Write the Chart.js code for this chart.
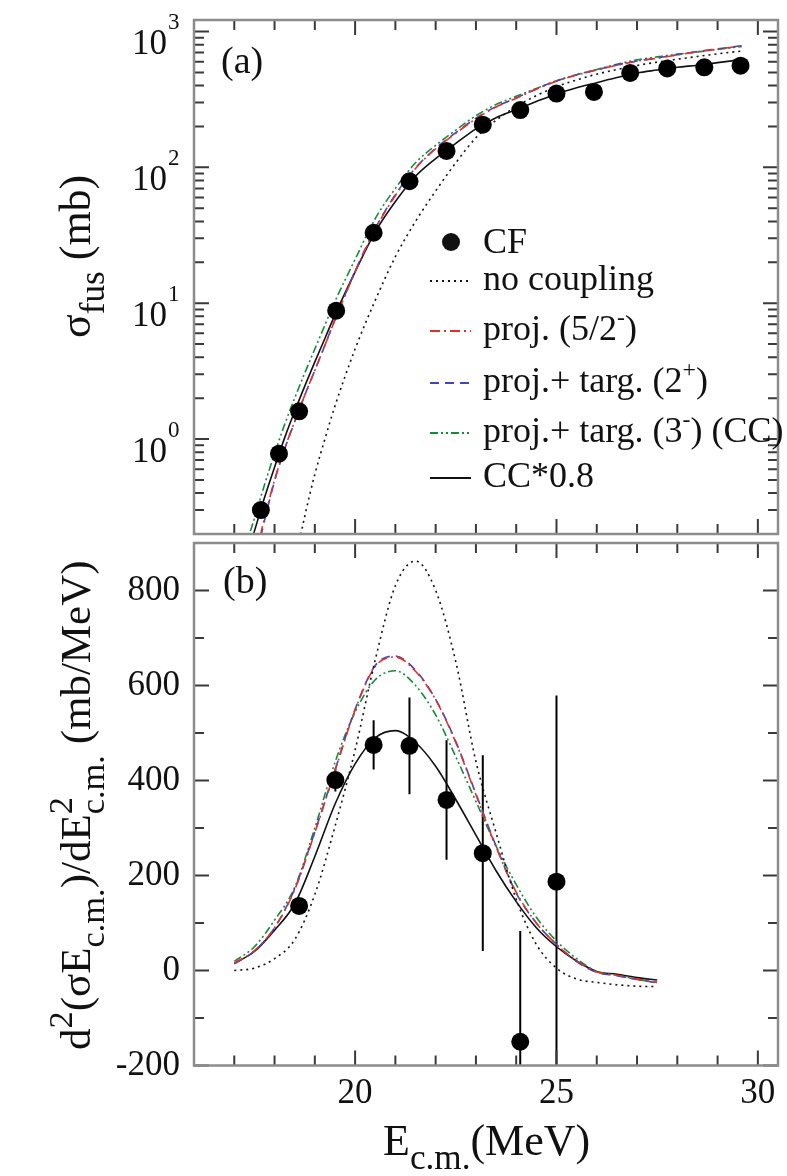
<!DOCTYPE html>
<html>
<head>
<meta charset="utf-8">
<script src="https://cdn.jsdelivr.net/npm/chart.js@4.4.0/dist/chart.umd.min.js"></script>
<style>
    body { margin: 0; background: #fff; }
    #wrap { position: relative; width: 787px; height: 1176px; }
    #topChart { position: absolute; left: 0; top: 0; }
    #botChart { position: absolute; left: 0; top: 440px; }
</style>
</head>
<body>
<div id="wrap">
    <canvas id="topChart" width="787" height="543"></canvas>
    <canvas id="botChart" width="787" height="736"></canvas>
</div>
<script>
// ---- panel (a): fusion cross section (mb) ----
const eCF = [17.66, 18.11, 18.61, 19.53, 20.46, 21.35, 22.27, 23.17, 24.10, 25.00, 25.93, 26.83, 27.75, 28.67, 29.57];
const sigCF = [0.30, 0.78, 1.6, 8.8, 33, 79, 132, 206, 264, 349, 359, 495, 535, 545, 560];

const eCalcA = [17.4, 17.5, 17.75, 18.0, 18.25, 18.5, 18.75, 19.0, 19.25, 19.5, 20.0, 20.5, 21.0, 21.5, 22.0,
    22.5, 23.0, 23.5, 24.0, 24.5, 25.0, 25.5, 26.0, 26.5, 27.0, 27.5, 28.0, 28.5, 29.0, 29.6];
const sigNoCoup = [null, null, null, null, null, 0.12, 0.27, 0.55, 1.0, 1.75, 4.6, 10.5, 22, 40, 67,
    108, 165, 222, 280, 337, 392, 440, 485, 525, 562, 595, 625, 655, 685, 718];
const sigProj = [0.10, 0.13, 0.26, 0.50, 0.85, 1.35, 2.1, 3.2, 4.9, 7.5, 17, 35, 62, 98, 137,
    178, 228, 278, 322, 376, 430, 478, 520, 565, 605, 635, 672, 710, 742, 782];
const sigTarg2 = [0.09, 0.12, 0.25, 0.49, 0.84, 1.34, 2.1, 3.2, 4.9, 7.6, 17.2, 35.5, 63, 99, 138,
    180, 230, 280, 324, 378, 432, 480, 522, 567, 607, 638, 675, 712, 745, 785];
const sigCC = [0.21, 0.26, 0.46, 0.78, 1.28, 2.0, 3.06, 4.6, 6.9, 10.3, 21, 42, 70, 108, 145,
    188, 240, 290, 333, 381, 434, 481, 525, 573, 619, 650, 681, 706, 738, 775];
const sigCC08 = [0.17, 0.21, 0.37, 0.62, 1.02, 1.6, 2.45, 3.7, 5.5, 8.2, 17, 33.5, 56, 86, 116,
    150, 192, 232, 266, 305, 347, 385, 420, 458, 495, 520, 545, 565, 590, 620];

// ---- panel (b): barrier distribution (mb/MeV) ----
const eCFb = [18.61, 19.51, 20.46, 21.35, 22.27, 23.17, 24.10, 25.00];
const dCF = [136, 401, 475, 473, 359, 247, -150, 187];
const dErr = [0, 24, 52, 102, 126, 206, 233, 392];

const eCalcB = [17.0, 17.5, 18.0, 18.5, 19.0, 19.5, 20.0, 20.5, 21.0, 21.5, 22.0,
    22.5, 23.0, 23.5, 24.0, 24.5, 25.0, 25.5, 26.0, 26.5, 27.0, 27.5];
const dNoCoup = [0, 5, 25, 65, 160, 303, 464, 654, 810, 862, 800, 650, 440, 290, 150, 55, 5, -18, -25, -30, -33, -34];
const dProj = [15, 42, 90, 170, 290, 420, 548, 640, 660, 630, 570, 480, 370, 260, 165, 100, 55, 20, -3, -10, -18, -25];
const dTarg2 = [14, 41, 90, 172, 292, 422, 550, 642, 662, 632, 571, 482, 372, 262, 163, 100, 55, 19, -4, -11, -19, -26];
const dCC = [19, 50, 106, 175, 300, 438, 544, 612, 631, 600, 538, 450, 356, 262, 181, 112, 62, 25, -2, -10, -19, -25];
const dCC08 = [15, 40, 85, 140, 240, 350, 435, 490, 505, 480, 430, 360, 285, 210, 145, 90, 50, 20, -2, -8, -15, -20];

// ---- axes ----
const xTicksMinor = [16, 17, 18, 19, 20, 21, 22, 23, 24, 25, 26, 27, 28, 29, 30];
const xTicksMajor = [20, 25, 30];
const yDecadesA = [1, 10, 100, 1000];
const yExpA = ['0', '1', '2', '3'];
const yTicksMajorB = [-200, 0, 200, 400, 600, 800];
const yTicksMinorB = [-100, 100, 300, 500, 700];

const SERIF = '"Liberation Serif", "Times New Roman", serif';
const RED = '#e0302c', BLUE = '#3a46c4', GREEN = '#188a3c', INK = '#111';

Chart.defaults.font.family = SERIF;
Chart.defaults.color = INK;

// log minor ticks: 2..9 of each decade inside the range
const yMinorA = [];
[0.1, 1, 10, 100].forEach(d => { for (let k = 2; k <= 9; k++) yMinorA.push(d * k); });

// draws text parts with sub/superscripts, returns width
function rich(ctx, parts, x, y, size, subScale) {
    const small = size * (subScale || 0.66);
    let cx = x;
    ctx.textAlign = 'left';
    ctx.textBaseline = 'alphabetic';
    for (const p of parts) {
        const t = p[0], mode = p[1] || '';
        if (mode === 'supsub') {
            ctx.font = small + 'px ' + SERIF;
            ctx.fillText(t[0], cx, y - size * 0.42);
            ctx.fillText(t[1], cx, y + size * 0.32);
            cx += Math.max(ctx.measureText(t[0]).width, ctx.measureText(t[1]).width);
            continue;
        }
        ctx.font = (mode ? small : size) + 'px ' + SERIF;
        const dy = mode === 'sup' ? -size * 0.42 : mode === 'sub' ? size * 0.32 : 0;
        ctx.fillText(t, cx, y + dy);
        cx += ctx.measureText(t).width;
    }
    return cx - x;
}

// frame plus inward tick marks on all four sides
function frameTicks(yMajor, yMinor) {
    return {
        id: 'frameTicks',
        afterDraw(chart) {
            const ctx = chart.ctx, a = chart.chartArea;
            const sx = chart.scales.x, sy = chart.scales.y;
            ctx.save();
            ctx.strokeStyle = '#3a3a3a';
            ctx.lineWidth = 2;
            ctx.beginPath();
            xTicksMinor.forEach(v => {
                const px = sx.getPixelForValue(v);
                const len = xTicksMajor.includes(v) ? 15 : 10;
                ctx.moveTo(px, a.bottom); ctx.lineTo(px, a.bottom - len);
                ctx.moveTo(px, a.top); ctx.lineTo(px, a.top + len);
            });
            yMajor.concat(yMinor).forEach(v => {
                const py = sy.getPixelForValue(v);
                if (py < a.top || py > a.bottom) return;
                const len = yMajor.includes(v) ? 15 : 10;
                ctx.moveTo(a.left, py); ctx.lineTo(a.left + len, py);
                ctx.moveTo(a.right, py); ctx.lineTo(a.right - len, py);
            });
            ctx.stroke();
            ctx.strokeStyle = '#8c8c8c';
            ctx.lineWidth = 2.5;
            ctx.strokeRect(a.left, a.top, a.right - a.left, a.bottom - a.top);
            ctx.restore();
        }
    };
}

function pts(xs, ys) {
    return xs.map((x, i) => ({ x: x, y: ys[i] }));
}

function curve(label, xs, ys, color, dash) {
    return {
        label: label,
        data: pts(xs, ys),
        borderColor: color,
        borderWidth: 1.6,
        borderDash: dash,
        pointRadius: 0,
        fill: false,
        cubicInterpolationMode: 'monotone'
    };
}

function dots(label, xs, ys) {
    return {
        label: label,
        data: pts(xs, ys),
        showLine: false,
        pointRadius: 9,
        pointBackgroundColor: '#000',
        pointBorderColor: '#000',
        pointBorderWidth: 0
    };
}

// legend rows for panel (a)
const legendRows = [
    { kind: 'dot', y: 253, parts: [['CF']] },
    { kind: 'line', color: INK, dash: [2, 4], y: 290, parts: [['no coupling']] },
    { kind: 'line', color: RED, dash: [10, 4, 2, 4], y: 340, parts: [['proj. (5/2'], ['-', 'sup'], [')']] },
    { kind: 'line', color: BLUE, dash: [9, 6], y: 392, parts: [['proj.+ targ. (2'], ['+', 'sup'], [')']] },
    { kind: 'line', color: GREEN, dash: [8, 3, 2, 3, 2, 3], y: 442, parts: [['proj.+ targ. (3'], ['-', 'sup'], [') (CC)']] },
    { kind: 'line', color: INK, dash: [], y: 487, parts: [['CC*0.8']] }
];

const topDecor = {
    id: 'topDecor',
    afterDraw(chart) {
        const ctx = chart.ctx, sy = chart.scales.y;
        ctx.save();
        ctx.fillStyle = INK;
        // decade labels 10^n
        yDecadesA.forEach((v, i) => {
            const py = sy.getPixelForValue(v);
            ctx.font = '35px ' + SERIF;
            ctx.textAlign = 'right';
            ctx.textBaseline = 'alphabetic';
            ctx.fillText('10', 167, py + 23);
            ctx.font = '23px ' + SERIF;
            ctx.textAlign = 'left';
            ctx.fillText(yExpA[i], 168, py - 2);
        });
        // y title
        ctx.save();
        ctx.translate(90, 338);
        ctx.rotate(-Math.PI / 2);
        rich(ctx, [['σ'], ['fus', 'sub'], [' (mb)']], 0, 0, 44, 0.8);
        ctx.restore();
        // panel label
        rich(ctx, [['(a)']], 221, 73, 38);
        // legend
        legendRows.forEach(r => {
            if (r.kind === 'dot') {
                ctx.beginPath();
                ctx.arc(451, r.y - 11, 9, 0, Math.PI * 2);
                ctx.fill();
            } else {
                ctx.strokeStyle = r.color;
                ctx.lineWidth = 1.8;
                ctx.setLineDash(r.dash);
                ctx.beginPath();
                ctx.moveTo(430, r.y - 9);
                ctx.lineTo(471, r.y - 9);
                ctx.stroke();
                ctx.setLineDash([]);
            }
            rich(ctx, r.parts, 483, r.y, 36);
        });
        ctx.restore();
    }
};

const botDecor = {
    id: 'botDecor',
    beforeDatasetsDraw(chart) {
        // vertical error bars
        const ctx = chart.ctx, a = chart.chartArea;
        const sx = chart.scales.x, sy = chart.scales.y;
        ctx.save();
        ctx.beginPath();
        ctx.rect(a.left, a.top, a.right - a.left, a.bottom - a.top);
        ctx.clip();
        ctx.strokeStyle = '#000';
        ctx.lineWidth = 2;
        ctx.beginPath();
        eCFb.forEach((e, i) => {
            if (!dErr[i]) return;
            const px = sx.getPixelForValue(e);
            ctx.moveTo(px, sy.getPixelForValue(dCF[i] + dErr[i]));
            ctx.lineTo(px, sy.getPixelForValue(dCF[i] - dErr[i]));
        });
        ctx.stroke();
        ctx.restore();
    },
    afterDraw(chart) {
        const ctx = chart.ctx;
        ctx.save();
        ctx.fillStyle = INK;
        ctx.save();
        ctx.translate(90, 610);
        ctx.rotate(-Math.PI / 2);
        rich(ctx, [['d'], ['2', 'sup'], ['(σE'], ['c.m.', 'sub'], [')/dE'], [['2', 'c.m.'], 'supsub'], [' (mb/MeV)']], 0, 0, 43, 0.8);
        ctx.restore();
        rich(ctx, [['E'], ['c.m.', 'sub'], ['(MeV)']], 383, 715, 44, 0.8);
        rich(ctx, [['(b)']], 223, 153, 38);
        ctx.restore();
    }
};

// ---- top panel ----
new Chart(document.getElementById('topChart'), {
    type: 'line',
    data: {
        datasets: [
            dots('CF', eCF, sigCF),
            curve('no coupling', eCalcA, sigNoCoup, INK, [2, 4]),
            curve('proj. (5/2-)', eCalcA, sigProj, RED, [10, 4, 2, 4]),
            curve('proj.+ targ. (2+)', eCalcA, sigTarg2, BLUE, [9, 6]),
            curve('proj.+ targ. (3-) (CC)', eCalcA, sigCC, GREEN, [8, 3, 2, 3, 2, 3]),
            curve('CC*0.8', eCalcA, sigCC08, INK, [])
        ]
    },
    options: {
        responsive: false,
        animation: false,
        layout: { padding: { left: 194, top: 20, right: 3, bottom: 0 } },
        plugins: { legend: { display: false }, tooltip: { enabled: false } },
        scales: {
            x: { type: 'linear', min: 16, max: 30.5, display: false },
            y: { type: 'logarithmic', min: 0.2, max: 1215, display: false }
        }
    },
    plugins: [frameTicks(yDecadesA, yMinorA), topDecor]
});

// ---- bottom panel ----
new Chart(document.getElementById('botChart'), {
    type: 'line',
    data: {
        datasets: [
            dots('CF', eCFb, dCF),
            curve('no coupling', eCalcB, dNoCoup, INK, [2, 4]),
            curve('proj. (5/2-)', eCalcB, dProj, RED, [10, 4, 2, 4]),
            curve('proj.+ targ. (2+)', eCalcB, dTarg2, BLUE, [9, 6]),
            curve('proj.+ targ. (3-) (CC)', eCalcB, dCC, GREEN, [8, 3, 2, 3, 2, 3]),
            curve('CC*0.8', eCalcB, dCC08, INK, [])
        ]
    },
    options: {
        responsive: false,
        animation: false,
        layout: { padding: { left: 0, top: 103, right: 3, bottom: 0 } },
        plugins: { legend: { display: false }, tooltip: { enabled: false } },
        scales: {
            x: {
                type: 'linear', min: 16, max: 30.5,
                afterBuildTicks: s => { s.ticks = xTicksMajor.map(v => ({ value: v })); },
                afterFit: s => { s.height = 110.5; },
                grid: { display: false, drawTicks: false },
                border: { display: false },
                ticks: { font: { size: 35 }, padding: 7, color: INK, maxRotation: 0, autoSkip: false,
                    callback: v => String(v) }
            },
            y: {
                type: 'linear', min: -200, max: 900,
                afterBuildTicks: s => { s.ticks = yTicksMajorB.map(v => ({ value: v })); },
                afterFit: s => { s.width = 194; },
                grid: { display: false, drawTicks: false },
                border: { display: false },
                ticks: { font: { size: 35 }, padding: 14, color: INK, callback: v => String(v) }
            }
        }
    },
    plugins: [frameTicks(yTicksMajorB, yTicksMinorB), botDecor]
});
</script>
</body>
</html>
